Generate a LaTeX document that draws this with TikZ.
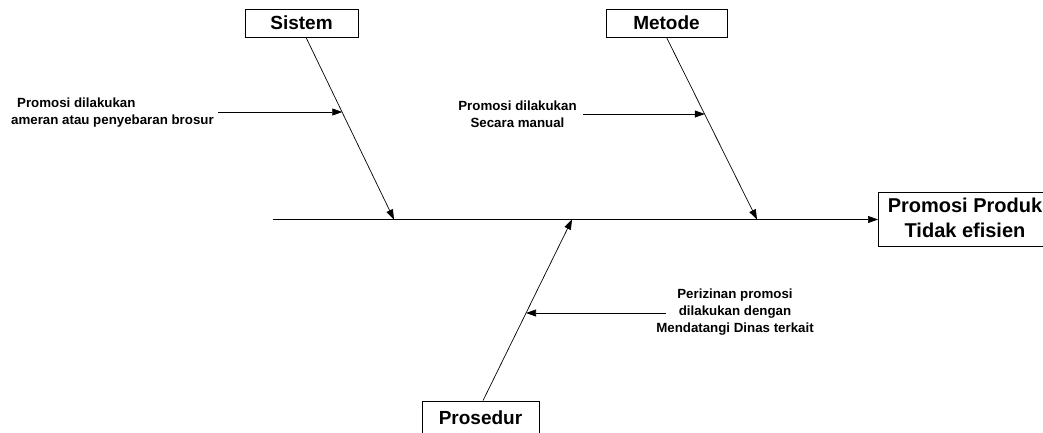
\documentclass[tikz,border=0pt]{standalone}
\usepackage{fontspec}
\setmainfont{Liberation Sans}
\usetikzlibrary{arrows.meta}
\begin{document}
\begin{tikzpicture}[x=1pt,y=-1pt,
  catbox/.style={draw, line width=0.8pt, inner sep=0pt, font=\fontsize{19}{22}\selectfont\bfseries},
  effbox/.style={inner sep=0pt},
  efftext/.style={inner sep=0pt, align=center, font=\fontsize{20}{25}\selectfont\bfseries},
  small/.style={inner sep=0pt, font=\fontsize{13.3}{17}\selectfont\bfseries},
  frame/.style={line width=0.8pt},
  arr/.style={line width=0.7pt, -{Triangle[length=10pt,width=7pt]}}]
\useasboundingbox (0,0) rectangle (1043,432);
\fill[white] (0,0) rectangle (1043,432);
% category boxes
\node[catbox, minimum width=113pt, minimum height=28pt] (sistem) at (301.5,23) {Sistem};
\node[catbox, minimum width=121pt, minimum height=28pt] (metode) at (666.5,23) {Metode};
\node[catbox, minimum width=117pt, minimum height=34pt] (prosedur) at (480.5,418) {Prosedur};
% effect box (right side runs off the picture)
\node[effbox, minimum width=200pt, minimum height=53pt, anchor=west] (effect) at (878,219.5) {};
\draw[frame] (effect.north east) -- (effect.north west) -- (effect.south west) -- (effect.south east);
\node[efftext] (efftextnode) at (965,218) {Promosi Produk\\Tidak efisien};
% spine
\coordinate (tail) at (273,219.5);
\coordinate (s1) at (394,219.5);
\coordinate (s2) at (757,219.5);
\coordinate (s3) at (572,219.5);
\draw[arr] (tail) -- (effect.west);
% bones
\draw[arr] ([xshift=4.5pt]sistem.south) -- coordinate[pos=0.412] (c1) (s1);
\draw[arr] (metode.south) -- coordinate[pos=0.423] (c2) (s2);
\draw[arr] ([xshift=2.5pt]prosedur.north) -- coordinate[pos=0.484] (c3) (s3);
% cause texts
\node[small, anchor=west, align=left] (t1) at (11,113) {\hspace{6pt}Promosi dilakukan\\ameran atau penyebaran brosur};
\node[small, align=center] (t2) at (517.5,114) {Promosi dilakukan\\Secara manual};
\node[small, align=center] (t3) at (735,312) {Perizinan promosi\\dilakukan dengan\\Mendatangi Dinas terkait};
% cause arrows
\coordinate (f1) at (218,112);
\coordinate (f2) at (583,114);
\coordinate (f3) at (666,313);
\draw[arr] (f1) -- (f1 -| c1);
\draw[arr] (f2) -- (f2 -| c2);
\draw[arr] (f3) -- (f3 -| c3);
\end{tikzpicture}
\end{document}
